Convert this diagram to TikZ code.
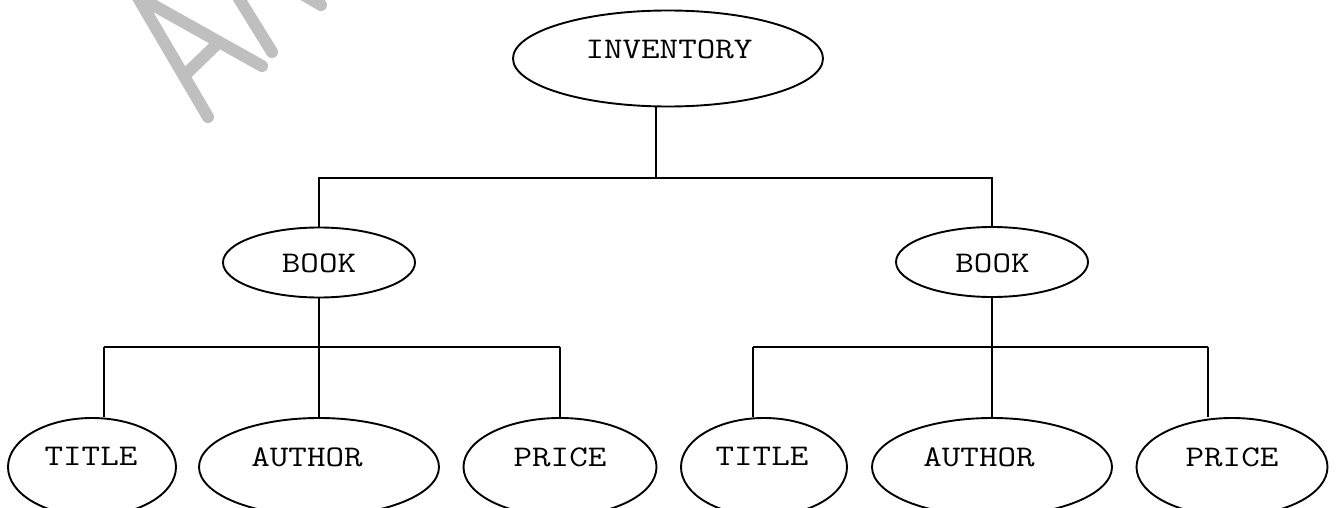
\documentclass[tikz,border=0pt]{standalone}
\usepackage{graphicx}
\usetikzlibrary{shapes.geometric}

\tikzset{
  oval/.style={draw, ellipse, line width=1.9pt, inner sep=0pt, black},
  caption/.style={inner sep=0pt, font=\fontsize{30}{30}\selectfont\ttfamily},
  wire/.style={line width=2pt, black},
  mark stroke/.style={line width=12pt, color=black!25, line cap=round}
}
\newcommand{\wide}[1]{\scalebox{1.2}[1]{#1}}

\begin{document}
\begin{tikzpicture}[x=1pt, y=-1pt]
  \useasboundingbox (0,0) rectangle (1339,508);
  \clip (0,0) rectangle (1339,508);
  \fill[white] (0,0) rectangle (1339,508);

  % faint background lettering
  \draw[mark stroke] (208,117) -- (137,-4) -- (262,66);
  \draw[mark stroke] (187,73) -- (216,45);
  \draw[mark stroke] (238,-3) -- (272,52);
  \draw[mark stroke] (302,-6) -- (321,5);

  % root
  \node[oval, minimum width=310, minimum height=96] (inv) at (668,58.5) {};
  \node[caption] (invT) at (669,49.5) {\wide{INVENTORY}};

  % second level
  \node[oval, minimum width=192, minimum height=70] (bookL) at (319,262.5) {};
  \node[caption] (bookLT) at (319,263.5) {\wide{BOOK}};
  \node[oval, minimum width=192, minimum height=70] (bookR) at (992,262) {};
  \node[caption] (bookRT) at (992.5,263.5) {\wide{BOOK}};

  % leaves, left branch
  \node[oval, minimum width=168, minimum height=98] (titleL) at (92,467) {};
  \node[caption] (titleLT) at (91,456.5) {\wide{TITLE}};
  \node[oval, minimum width=240, minimum height=98] (authorL) at (319,467) {};
  \node[caption] (authorLT) at (307,457) {\wide{AUTHOR}};
  \node[oval, minimum width=193, minimum height=98] (priceL) at (560,467) {};
  \node[caption] (priceLT) at (560,457) {\wide{PRICE}};

  % leaves, right branch
  \node[oval, minimum width=166, minimum height=98] (titleR) at (764,467) {};
  \node[caption] (titleRT) at (762,456) {\wide{TITLE}};
  \node[oval, minimum width=240, minimum height=98] (authorR) at (992,467) {};
  \node[caption] (authorRT) at (979,457) {\wide{AUTHOR}};
  \node[oval, minimum width=191, minimum height=98] (priceR) at (1232,467) {};
  \node[caption] (priceRT) at (1232,457) {\wide{PRICE}};

  % junction points of the buses
  \coordinate (j0) at (656,178);
  \coordinate (tL) at (104,347);
  \coordinate (pL) at (560,347);
  \coordinate (tR) at (753,347);
  \coordinate (pR) at (1208,347);

  % root to books
  \draw[wire] (inv.south -| j0) -- (j0);
  \draw[wire] (bookL.north) |- (j0) -| (bookR.north);

  % left book to its leaves
  \draw[wire] (bookL.south) -- (authorL.north);
  \draw[wire] (tL) -- (pL);
  \draw[wire] (tL) -- (titleL.north -| tL);
  \draw[wire] (pL) -- (priceL.north -| pL);

  % right book to its leaves
  \draw[wire] (bookR.south) -- (authorR.north);
  \draw[wire] (tR) -- (pR);
  \draw[wire] (tR) -- (titleR.north -| tR);
  \draw[wire] (pR) -- (priceR.north -| pR);
\end{tikzpicture}
\end{document}
